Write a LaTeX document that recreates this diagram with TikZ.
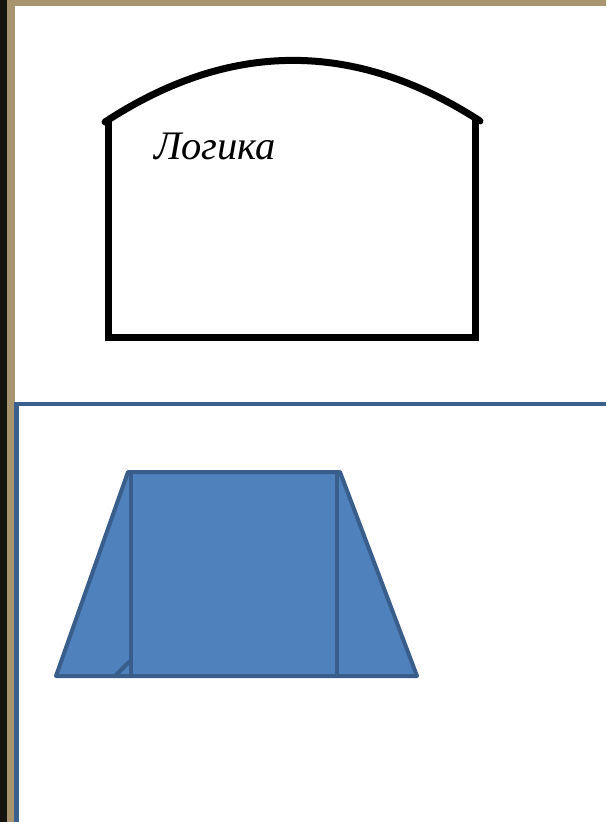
\documentclass[tikz,border=0pt]{standalone}
\usepackage{fontspec}
\setmainfont{Liberation Serif}
\definecolor{darkbg}{HTML}{15140F}
\definecolor{tanbg}{HTML}{A8946F}
\definecolor{frameblue}{HTML}{3C608D}
\definecolor{fillblue}{HTML}{4F81BD}
\definecolor{edgeblue}{HTML}{3A5E8C}
\begin{document}
\begin{tikzpicture}[x=1pt,y=-1pt,
  houseline/.style={line width=7pt,black,line join=miter},
  tentface/.style={fill=fillblue,draw=edgeblue,line width=4pt,line join=round,line cap=round},
  tentedge/.style={draw=edgeblue,line width=4pt,line cap=round}]
\useasboundingbox (0,0) rectangle (606,822);
% background
\fill[tanbg] (0,0) rectangle (606,822);
\fill[darkbg] (0,0) rectangle (7,822);
\fill[white] (15,6) rectangle (606,822);
% lower panel frame
\fill[frameblue] (14,402) rectangle (606,406);
\fill[frameblue] (14,402) rectangle (19,822);
% house outline
\draw[houseline] (108,120) -- (108,337) -- (475,337) -- (475,120);
\draw[houseline,line cap=round] (105,122) .. controls (230,40) and (355,40) .. (480,121);
\node[anchor=base west,inner sep=0pt,font=\itshape\fontsize{40.5}{44}\selectfont] (label) at (154,159) {Логика};
% tent
\draw[tentface] (128,472) -- (340,472) -- (417,676) -- (56,676) -- cycle;
\draw[tentedge] (131,472) -- (131,676);
\draw[tentedge] (337,472) -- (337,676);
\draw[tentedge] (115,676) -- (129,662);
\end{tikzpicture}
\end{document}
